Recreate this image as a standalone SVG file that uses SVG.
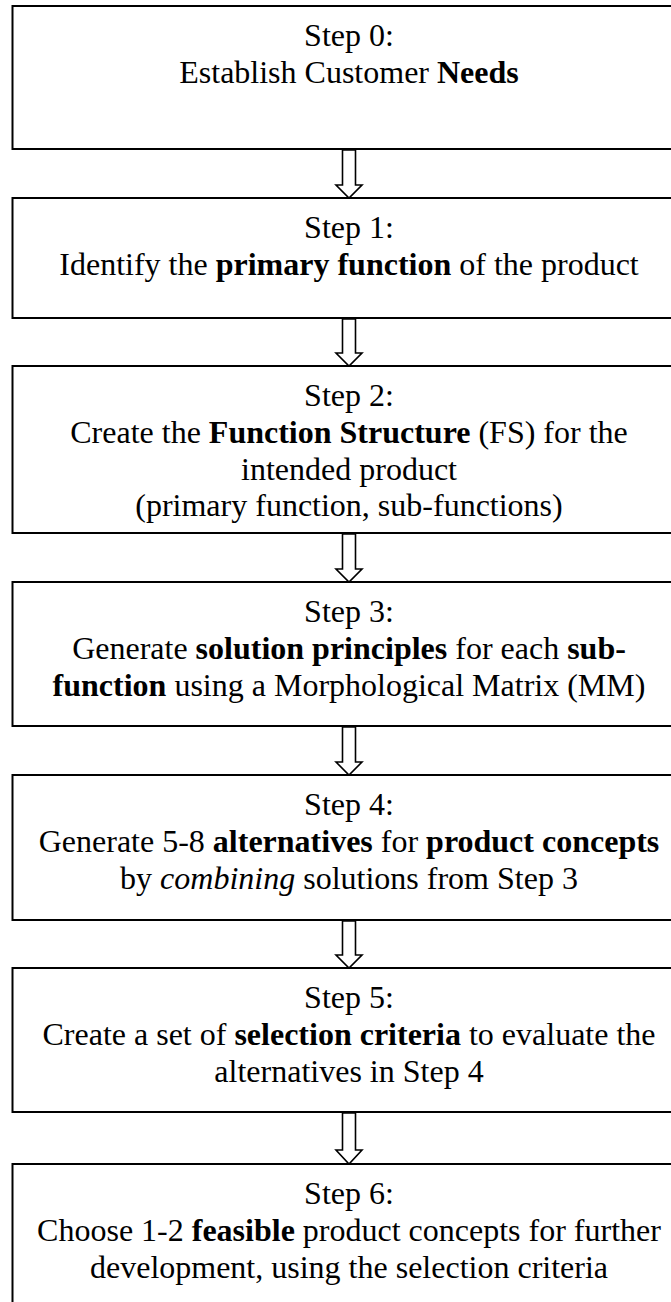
<svg xmlns="http://www.w3.org/2000/svg" width="671" height="1302" viewBox="0 0 671 1302">
<style>
.box{fill:#fff;stroke:#000;stroke-width:2}
.arr{fill:#fff;stroke:#000;stroke-width:1.6;stroke-linejoin:miter}
text{font-family:"Liberation Serif","Times New Roman",serif;font-size:32px;fill:#000;text-anchor:middle}
.b{font-weight:bold}
.i{font-style:italic}
</style>
<rect width="671" height="1302" fill="#fff"/>
<g id="connectors">
<polygon class="arr" points="342.5,150 342.5,185 336,185 349,198 362,185 355.5,185 355.5,150"/>
<polygon class="arr" points="342.5,319 342.5,353 336,353 349,366 362,353 355.5,353 355.5,319"/>
<polygon class="arr" points="342.5,534 342.5,569 336,569 349,582 362,569 355.5,569 355.5,534"/>
<polygon class="arr" points="342.5,727 342.5,762 336,762 349,775 362,762 355.5,762 355.5,727"/>
<polygon class="arr" points="342.5,921 342.5,955 336,955 349,968 362,955 355.5,955 355.5,921"/>
<polygon class="arr" points="342.5,1113 342.5,1150 336,1150 349,1164 362,1150 355.5,1150 355.5,1113"/>
</g>
<g id="step0">
<rect class="box" x="12.5" y="6" width="674" height="143"/>
<text x="349" y="46">Step 0:</text>
<text x="349" y="83">Establish Customer <tspan class="b">Needs</tspan></text>
</g>
<g id="step1">
<rect class="box" x="12.5" y="198" width="674" height="120"/>
<text x="349" y="238">Step 1:</text>
<text x="349" y="275">Identify the <tspan class="b">primary function</tspan> of the product</text>
</g>
<g id="step2">
<rect class="box" x="12.5" y="366" width="674" height="167"/>
<text x="349" y="406">Step 2:</text>
<text x="349" y="443">Create the <tspan class="b">Function Structure</tspan> (FS) for the</text>
<text x="349" y="480">intended product</text>
<text x="349" y="516">(primary function, sub-functions)</text>
</g>
<g id="step3">
<rect class="box" x="12.5" y="582" width="674" height="144"/>
<text x="349" y="622">Step 3:</text>
<text x="349" y="659">Generate <tspan class="b">solution principles</tspan> for each <tspan class="b">sub-</tspan></text>
<text x="349" y="696"><tspan class="b">function</tspan> using a Morphological Matrix (MM)</text>
</g>
<g id="step4">
<rect class="box" x="12.5" y="775" width="674" height="145"/>
<text x="349" y="815">Step 4:</text>
<text x="349" y="852">Generate 5-8 <tspan class="b">alternatives</tspan> for <tspan class="b">product concepts</tspan></text>
<text x="349" y="889">by <tspan class="i">combining</tspan> solutions from Step 3</text>
</g>
<g id="step5">
<rect class="box" x="12.5" y="968" width="674" height="144"/>
<text x="349" y="1008">Step 5:</text>
<text x="349" y="1045">Create a set of <tspan class="b">selection criteria</tspan> to evaluate the</text>
<text x="349" y="1082">alternatives in Step 4</text>
</g>
<g id="step6">
<rect class="box" x="12.5" y="1164" width="674" height="150"/>
<text x="349" y="1204">Step 6:</text>
<text x="349" y="1241">Choose 1-2 <tspan class="b">feasible</tspan> product concepts for further</text>
<text x="349" y="1278">development, using the selection criteria</text>
</g>
</svg>
